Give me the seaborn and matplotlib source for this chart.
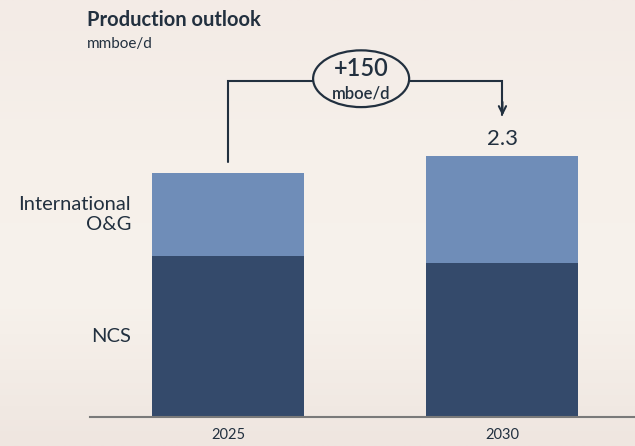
import seaborn as sns
import matplotlib.pyplot as plt
import numpy as np
import pandas as pd
from matplotlib.patches import Ellipse

# values (mmboe/d)
years = ['2025', '2030']
ncs = [1.42, 1.36]
international = [0.73, 0.94]
segment_labels = ['NCS', 'International\nO&G']
delta_text = '+150'
delta_unit = 'mboe/d'

dark = '#344a6b'
light = '#6f8db8'
ink = '#22303f'

data = pd.DataFrame({'year': years, 'NCS': ncs, 'International': international})
data['total'] = data['NCS'] + data['International']

sns.set_style('white')
plt.rcParams['font.family'] = ['Lato', 'DejaVu Sans']

fig = plt.figure(figsize=(6.35, 4.46), dpi=100)
fig.patch.set_facecolor('#f4ede8')

# soft background gradient
bg = fig.add_axes([0, 0, 1, 1], zorder=-10)
grad = np.linspace(0, 1, 200).reshape(-1, 1)
cmap = sns.blend_palette(['#f3ebe6', '#f6f0ea', '#f7f2ec', '#efe6e0'], as_cmap=True)
bg.imshow(grad, aspect='auto', cmap=cmap, extent=[0, 1, 0, 1])
bg.axis('off')

ax = fig.add_axes([90 / 635, 29 / 446, 545 / 635, 357 / 446])
ax.set_facecolor('none')

sns.barplot(data=data, x='year', y='total', color=light, width=0.554,
            saturation=1, linewidth=0, edgecolor='none', ax=ax)
sns.barplot(data=data, x='year', y='NCS', color=dark, width=0.554,
            saturation=1, linewidth=0, edgecolor='none', ax=ax)

ax.set_xlim(-0.503, 1.483)
ax.set_ylim(0, 3.145)
ax.set_xlabel('')
ax.set_ylabel('')
ax.set_yticks([])
ax.tick_params(axis='x', length=0, labelsize=10.5, labelcolor=ink, pad=8)
for s in ['top', 'right', 'left']:
    ax.spines[s].set_visible(False)
ax.spines['bottom'].set_color('#7a7a7a')
ax.spines['bottom'].set_linewidth(1.5)

# segment labels beside the first bar
t0 = data['total'].iloc[0]
n0 = data['NCS'].iloc[0]
ax.text(-0.353, n0 / 2, segment_labels[0], ha='right', va='center',
        fontsize=14.5, color=ink, clip_on=False)
ax.text(-0.353, n0 + (t0 - n0) / 2, segment_labels[1], ha='right',
        va='center', fontsize=14.5, color=ink, linespacing=1.2, clip_on=False)

# total label for 2030
t1 = data['total'].iloc[1]
ax.text(1, t1 + 0.15, f'{t1:.1f}', ha='center', va='center', fontsize=16,
        color=ink)

# bracket with arrow showing growth
top_y = 2.96
ax.plot([0, 0, 1, 1], [t0 + 0.1, top_y, top_y, t1 + 0.36], color=ink,
        lw=1.5, solid_joinstyle='miter', clip_on=False)
ax.annotate('', xy=(1, t1 + 0.33), xytext=(1, t1 + 0.5),
            arrowprops=dict(arrowstyle='->', color=ink, lw=1.5,
                            mutation_scale=13))
ax.add_patch(Ellipse((0.485, 2.98), 0.35, 0.50, facecolor='#f4ede8',
                     edgecolor=ink, lw=1.6, zorder=5, clip_on=False))
ax.text(0.485, 3.07, delta_text, ha='center', va='center', fontsize=17,
        fontweight='semibold', color=ink, zorder=6)
ax.text(0.485, 2.85, delta_unit, ha='center', va='center', fontsize=12,
        fontweight='semibold', color=ink, zorder=6)

# title
fig.text(87 / 635, 1 - 20 / 446, 'Production outlook', ha='left',
         va='center', fontsize=14.5, fontweight='bold', color=ink)
fig.text(87 / 635, 1 - 44 / 446, 'mmboe/d', ha='left', va='center',
         fontsize=11, color=ink)

fig.savefig('out.png', dpi=100, facecolor=fig.get_facecolor())
